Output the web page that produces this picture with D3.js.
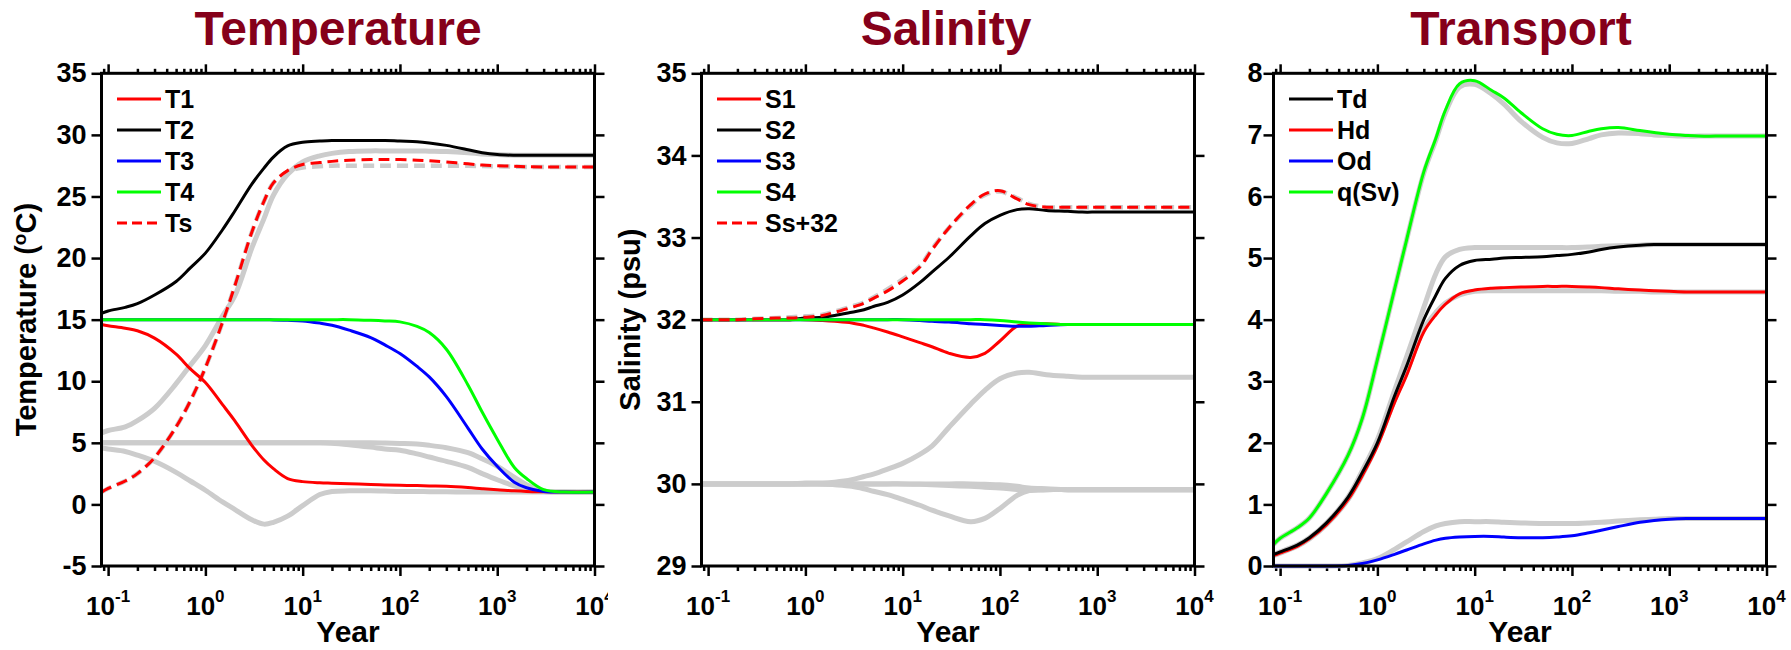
<!DOCTYPE html>
<html>
<head>
<meta charset="utf-8">
<script src="https://cdn.jsdelivr.net/npm/d3@7"></script>
<style>
  body { margin: 0; background: #fff; }
  text { font-family: "Liberation Sans", Arial, sans-serif; font-weight: bold; }
</style>
</head>
<body>
<svg id="chart" width="1791" height="650"></svg>
<script>
// time grid (years), shared by every series
var years = [0.0855, 0.1, 0.15, 0.2, 0.3, 0.5, 0.7, 1, 1.5, 2, 3, 4, 5, 7, 10, 15, 20, 30, 50, 70,
             100, 150, 200, 300, 500, 700, 1000, 1500, 2000, 3000, 5000, 10000];

// Temperature
var T1 = [14.6,14.5,14.3,14.1,13.5,12.2,11.0,9.9,8.1,6.8,4.8,3.6,2.9,2.1,1.85,1.75,1.72,1.68,1.62,1.58,1.55,1.53,1.5,1.47,1.37,1.28,1.2,1.1,1.05,1.02,1.0,1.0];
var T2 = [15.5,15.7,16.0,16.3,17.0,18.1,19.2,20.4,22.3,23.8,26.0,27.3,28.2,29.1,29.4,29.5,29.55,29.55,29.55,29.55,29.5,29.45,29.35,29.15,28.8,28.55,28.4,28.35,28.35,28.35,28.35,28.35];
var T3 = [15,15,15,15,15,15,15,15,15,15,15,15,14.98,14.95,14.9,14.72,14.55,14.15,13.55,12.95,12.25,11.2,10.35,8.75,6.2,4.5,3.1,1.8,1.35,1.05,1.0,1.0];
var T4 = [15,15,15,15,15,15,15,15,15,15,15,15,15,15,15,15,15,15,14.95,14.9,14.82,14.45,13.95,12.6,9.7,7.5,5.3,3.0,2.1,1.2,1.0,1.0];
var Ts = [1.0,1.3,1.9,2.5,3.8,6.3,8.4,11.1,14.8,17.7,22.1,24.6,26.1,27.1,27.6,27.75,27.85,27.95,28.0,28.0,28.0,27.95,27.9,27.8,27.65,27.55,27.5,27.45,27.42,27.4,27.4,27.4];
// reference run (grey)
var gT1 = [4.6,4.5,4.3,4.0,3.5,2.6,1.9,1.15,0.2,-0.4,-1.25,-1.6,-1.45,-0.95,-0.1,0.8,1.05,1.1,1.1,1.08,1.05,1.05,1.03,1.02,1.0,1.0,1.0,1.0,1.0,1.0,1.0,1.0];
var gT2 = [5.8,6.0,6.3,6.8,7.8,9.8,11.3,12.9,15.3,16.9,20.8,23.2,25.1,26.8,27.8,28.3,28.5,28.65,28.7,28.7,28.7,28.7,28.68,28.65,28.55,28.45,28.4,28.35,28.35,28.35,28.35,28.35];
var gT3 = [5,5,5,5,5,5,5,5,5,5,5,5,5,5,5,5,4.97,4.85,4.65,4.5,4.4,4.1,3.85,3.5,3.0,2.5,2.0,1.5,1.25,1.05,1.0,1.0];
var gT4 = [5,5,5,5,5,5,5,5,5,5,5,5,5,5,5,5,5,5,5,4.98,4.95,4.9,4.8,4.6,4.2,3.7,3.1,2.2,1.6,1.1,1.0,1.0];
var gTs = [1.0,1.3,1.9,2.5,3.8,6.3,8.4,11.1,14.8,17.7,22.1,24.6,26.1,27.0,27.35,27.45,27.5,27.5,27.5,27.5,27.5,27.5,27.5,27.5,27.5,27.47,27.45,27.42,27.4,27.4,27.4,27.4];

// Salinity
var S1 = [32,32,32,32,32,32,32,32,31.99,31.98,31.96,31.93,31.9,31.85,31.79,31.72,31.67,31.59,31.54,31.59,31.74,31.92,31.95,31.95,31.94,31.94,31.94,31.94,31.94,31.94,31.94,31.94];
var S2 = [32,32,32,32,32,32,32,32.02,32.03,32.05,32.09,32.12,32.16,32.21,32.3,32.45,32.58,32.76,33.02,33.17,33.27,33.34,33.35,33.33,33.32,33.31,33.31,33.31,33.31,33.31,33.31,33.31];
var S3 = [32,32,32,32,32,32,32,32,32,32,32,32,32,32,32,31.99,31.98,31.97,31.95,31.94,31.93,31.92,31.92,31.93,31.94,31.94,31.94,31.94,31.94,31.94,31.94,31.94];
var S4 = [32,32,32,32,32,32,32,32,32,32,32,32,32,32,32,32,32,32,32,32,31.99,31.97,31.96,31.95,31.94,31.94,31.94,31.94,31.94,31.94,31.94,31.94];
var Ss = [32,32,32,32,32.01,32.02,32.02,32.03,32.05,32.09,32.15,32.2,32.26,32.35,32.47,32.64,32.85,33.12,33.4,33.53,33.57,33.47,33.4,33.37,33.37,33.37,33.37,33.37,33.37,33.37,33.37,33.37];
var gS1 = [30,30,30,30,30,30,30,30,30,29.99,29.97,29.94,29.91,29.87,29.81,29.74,29.68,29.61,29.54,29.58,29.7,29.86,29.92,29.93,29.93,29.93,29.93,29.93,29.93,29.93,29.93,29.93];
var gS2 = [30,30,30,30,30,30,30,30.01,30.01,30.02,30.05,30.09,30.12,30.18,30.25,30.36,30.46,30.69,30.97,31.14,31.28,31.35,31.36,31.33,31.31,31.3,31.3,31.3,31.3,31.3,31.3,31.3];
var gS3 = [30,30,30,30,30,30,30,30,30,30,30,30,30,30,30,29.995,29.99,29.98,29.97,29.96,29.95,29.93,29.92,29.93,29.93,29.93,29.93,29.93,29.93,29.93,29.93,29.93];
var gS4 = [30,30,30,30,30,30,30,30,30,30,30,30,30,30,30,30,30,30,30,29.995,29.99,29.97,29.95,29.94,29.93,29.93,29.93,29.93,29.93,29.93,29.93,29.93];
var gSs = [32,32,32,32,32.01,32.02,32.03,32.04,32.06,32.1,32.16,32.21,32.27,32.37,32.49,32.65,32.86,33.12,33.39,33.52,33.56,33.48,33.41,33.37,33.37,33.37,33.37,33.37,33.37,33.37,33.37,33.37];

// Transport (Sv)
var Td = [0.19,0.23,0.34,0.46,0.7,1.12,1.52,2.0,2.76,3.25,4.0,4.4,4.67,4.88,4.96,4.98,5.0,5.01,5.02,5.04,5.06,5.1,5.14,5.18,5.21,5.22,5.22,5.22,5.22,5.22,5.22,5.22];
var Hd = [0.17,0.21,0.32,0.44,0.67,1.08,1.47,1.95,2.65,3.1,3.8,4.08,4.25,4.42,4.48,4.51,4.52,4.53,4.54,4.54,4.54,4.53,4.52,4.5,4.48,4.47,4.46,4.45,4.45,4.45,4.45,4.45];
var Od = [0,0,0,0,0,0.01,0.04,0.1,0.19,0.26,0.36,0.42,0.45,0.47,0.48,0.48,0.47,0.46,0.46,0.47,0.49,0.54,0.58,0.64,0.71,0.74,0.76,0.77,0.77,0.77,0.77,0.77];
var q  = [0.35,0.45,0.62,0.78,1.18,1.8,2.4,3.35,4.49,5.3,6.4,6.95,7.4,7.83,7.88,7.72,7.6,7.36,7.1,7.01,6.99,7.06,7.1,7.12,7.07,7.04,7.01,6.99,6.98,6.98,6.98,6.98];
var gTd = [0.19,0.23,0.34,0.46,0.7,1.12,1.55,2.05,2.85,3.4,4.2,4.75,5.02,5.14,5.17,5.17,5.17,5.17,5.17,5.17,5.17,5.18,5.19,5.2,5.21,5.22,5.22,5.22,5.22,5.22,5.22,5.22];
var gHd = [0.17,0.21,0.32,0.44,0.67,1.08,1.48,1.98,2.7,3.15,3.85,4.12,4.27,4.4,4.46,4.47,4.47,4.47,4.47,4.47,4.47,4.47,4.47,4.46,4.46,4.45,4.45,4.45,4.45,4.45,4.45,4.45];
var gOd = [0,0,0,0,0,0.01,0.05,0.12,0.27,0.39,0.56,0.65,0.69,0.72,0.72,0.72,0.71,0.7,0.69,0.69,0.69,0.7,0.71,0.73,0.75,0.76,0.77,0.77,0.77,0.77,0.77,0.77];
var gq  = [0.35,0.45,0.62,0.78,1.18,1.8,2.4,3.35,4.49,5.3,6.38,6.92,7.36,7.78,7.82,7.66,7.5,7.22,6.96,6.87,6.86,6.94,7.0,7.03,7.02,7.0,6.99,6.98,6.98,6.98,6.98,6.98];

// axis ticks
var xMajor = [0.1, 1, 10, 100, 1000, 10000];
var tempTicks = [-5, 0, 5, 10, 15, 20, 25, 30, 35];
var salTicks = [29, 30, 31, 32, 33, 34, 35];
var transTicks = [0, 1, 2, 3, 4, 5, 6, 7, 8];

var RED = "#ff0000", BLACK = "#000000", BLUE = "#0000ff", GREEN = "#00ff00", GREY = "#cccccc";

var svg = d3.select("#chart");
var top0 = 73.3, bottom0 = 566, plotW = 493;

var panels = [
  { title: "Temperature", titleX: 338, left: 101.5, yDomain: [-5, 35], yTicks: tempTicks, pad: 5,
    ylabel: "Temperature (", ysup: "o", yrest: "C)", ylabelX: 36,
    grey: [gT1, gT3, gT4, gT2], greyDash: [gTs],
    series: [
      { name: "T1", values: T1, color: RED },
      { name: "T2", values: T2, color: BLACK },
      { name: "T3", values: T3, color: BLUE },
      { name: "T4", values: T4, color: GREEN },
      { name: "Ts", values: Ts, color: RED, dash: true }
    ],
    drawOrder: [0, 1, 2, 3, 4] },
  { title: "Salinity", titleX: 946, left: 701.5, yDomain: [29, 35], yTicks: salTicks, pad: 5, cover: 608,
    ylabel: "Salinity (psu)", ylabelX: 640,
    grey: [gS1, gS3, gS4, gS2], greyDash: [gSs],
    series: [
      { name: "S1", values: S1, color: RED },
      { name: "S2", values: S2, color: BLACK },
      { name: "S3", values: S3, color: BLUE },
      { name: "S4", values: S4, color: GREEN },
      { name: "Ss+32", values: Ss, color: RED, dash: true }
    ],
    drawOrder: [1, 0, 2, 3, 4] },
  { title: "Transport", titleX: 1521, left: 1273.5, yDomain: [0, 8], yTicks: transTicks, pad: 1,
    grey: [gOd, gHd, gTd, gq], greyDash: [],
    series: [
      { name: "Td", values: Td, color: BLACK },
      { name: "Hd", values: Hd, color: RED },
      { name: "Od", values: Od, color: BLUE },
      { name: "q(Sv)", values: q, color: GREEN }
    ],
    drawOrder: [1, 0, 2, 3] }
];

var xMinor = [];
[0.01, 0.1, 1, 10, 100, 1000].forEach(function(d) {
  for (var m = 2; m <= 9; m++) xMinor.push(d * m);
});

panels.forEach(function(p) {
  var g = svg.append("g");
  if (p.cover) {
    g.append("rect").attr("x", p.cover).attr("y", 0)
      .attr("width", 1220 - p.cover).attr("height", 650).attr("fill", "#fff");
  }

  var x = d3.scaleLog().domain([years[0], 1e4]).range([p.left, p.left + plotW]);
  var y = d3.scaleLinear().domain(p.yDomain).range([bottom0, top0]);
  var minor = xMinor.filter(function(d) { return d >= years[0] && d <= 1e4; });

  // title
  g.append("text").attr("x", p.titleX).attr("y", 45)
    .attr("text-anchor", "middle").attr("font-size", 48).attr("fill", "#85001a")
    .text(p.title);

  // axes: bottom/top majors + minors, left/right
  function xAxis(gen, ty, vals, size) {
    var a = g.append("g").attr("transform", "translate(0," + ty + ")")
      .call(gen(x).tickValues(vals).tickSize(size).tickSizeOuter(0).tickFormat(""));
    a.select(".domain").remove();
    a.selectAll("line").attr("stroke", "#000").attr("stroke-width", 2.5);
  }
  xAxis(d3.axisBottom, bottom0, xMajor, 10);
  xAxis(d3.axisBottom, bottom0, minor, 5);
  xAxis(d3.axisTop, top0, xMajor, 9);
  xAxis(d3.axisTop, top0, minor, 4.5);

  var yl = g.append("g").attr("transform", "translate(" + p.left + ",0)")
    .call(d3.axisLeft(y).tickValues(p.yTicks).tickSize(10).tickPadding(p.pad).tickSizeOuter(0)
      .tickFormat(function(d) { return String(d); }));
  yl.select(".domain").remove();
  yl.selectAll("line").attr("stroke", "#000").attr("stroke-width", 2.5);
  yl.selectAll("text").attr("font-size", 27).attr("font-family", null).attr("fill", "#000");

  var yr = g.append("g").attr("transform", "translate(" + (p.left + plotW) + ",0)")
    .call(d3.axisRight(y).tickValues(p.yTicks).tickSize(10).tickSizeOuter(0).tickFormat(""));
  yr.select(".domain").remove();
  yr.selectAll("line").attr("stroke", "#000").attr("stroke-width", 2.5);

  // x tick labels 10^n
  var lab = g.append("g").selectAll("text").data(xMajor).join("text")
    .attr("x", function(d) { return x(d); }).attr("y", 615)
    .attr("text-anchor", "middle").attr("font-size", 26);
  lab.append("tspan").text("10");
  lab.append("tspan").attr("dy", -13).attr("font-size", 17)
    .text(function(d) { return String(Math.round(Math.log10(d))); });

  g.append("text").attr("x", p.left + plotW / 2).attr("y", 642)
    .attr("text-anchor", "middle").attr("font-size", 30).text("Year");

  if (p.ylabel) {
    var t = g.append("text").attr("transform", "translate(" + p.ylabelX + "," + ((top0 + bottom0) / 2) + ") rotate(-90)")
      .attr("text-anchor", "middle").attr("font-size", 29);
    t.append("tspan").text(p.ylabel);
    if (p.ysup) {
      t.append("tspan").attr("dy", -10).attr("font-size", 19).text(p.ysup);
      t.append("tspan").attr("dy", 10).text(p.yrest);
    }
  }

  var line = d3.line()
    .x(function(d, i) { return x(years[i]); })
    .y(function(d) { return y(d); })
    .curve(d3.curveCatmullRom.alpha(0.5));

  // grey reference run underneath
  p.grey.forEach(function(v) {
    g.append("path").attr("d", line(v)).attr("fill", "none")
      .attr("stroke", GREY).attr("stroke-width", 5);
  });
  p.greyDash.forEach(function(v) {
    g.append("path").attr("d", line(v)).attr("fill", "none")
      .attr("stroke", GREY).attr("stroke-width", 4.5).attr("stroke-dasharray", "11,6");
  });

  p.drawOrder.forEach(function(i) {
    var s = p.series[i];
    g.append("path").attr("d", line(s.values)).attr("fill", "none")
      .attr("stroke", s.color).attr("stroke-width", 3)
      .attr("stroke-dasharray", s.dash ? "11,6" : null);
  });

  // frame
  g.append("rect").attr("x", p.left).attr("y", top0)
    .attr("width", plotW).attr("height", bottom0 - top0)
    .attr("fill", "none").attr("stroke", "#000").attr("stroke-width", 3);

  // legend
  var leg = g.append("g").selectAll("g").data(p.series).join("g")
    .attr("transform", function(d, i) { return "translate(" + (p.left + 15.5) + "," + (99 + i * 31) + ")"; });
  leg.append("line").attr("x1", 0).attr("x2", 44).attr("y1", 0).attr("y2", 0)
    .attr("stroke", function(d) { return d.color; }).attr("stroke-width", 3)
    .attr("stroke-dasharray", function(d) { return d.dash ? "10,5" : null; });
  leg.append("text").attr("x", 48).attr("y", 0).attr("dy", "0.36em")
    .attr("font-size", 25).text(function(d) { return d.name; });
});
</script>
</body>
</html>
